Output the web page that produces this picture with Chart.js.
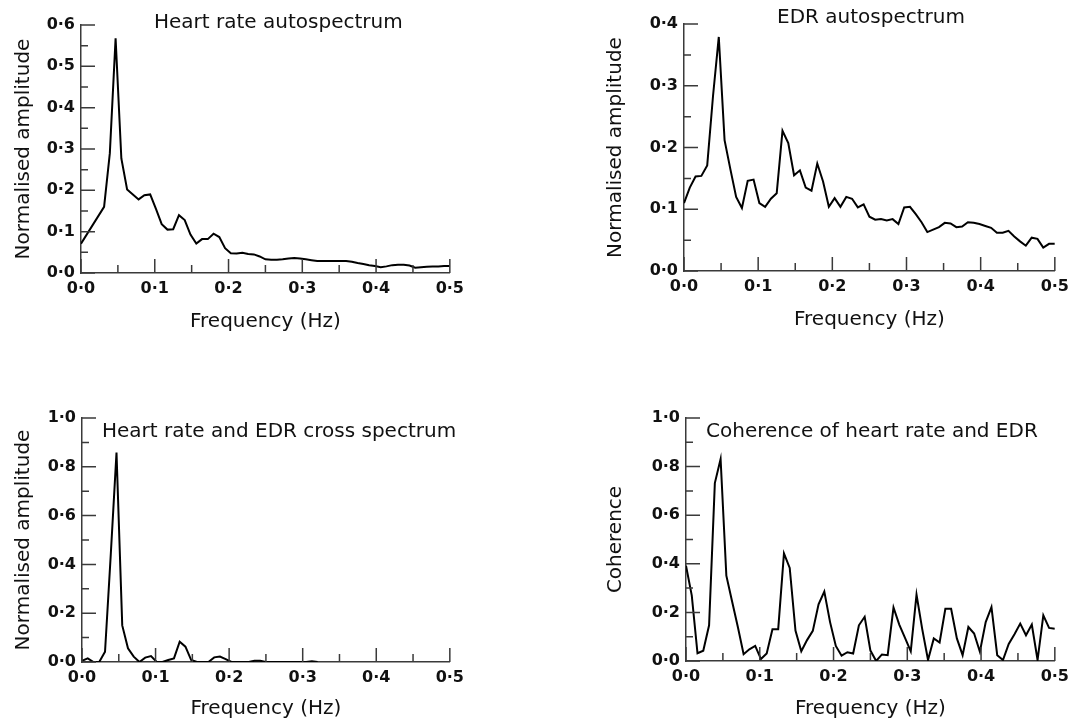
<!DOCTYPE html>
<html>
<head>
<meta charset="utf-8">
<script src="https://cdn.jsdelivr.net/npm/chart.js@4.4.1/dist/chart.umd.min.js"></script>
<style>
html,body{margin:0;padding:0;background:#fff;}
body{width:1080px;height:721px;position:relative;overflow:hidden;}
.p{position:absolute;}
canvas{display:block;}
</style>
</head>
<body>
<div class="p" style="left:0px;top:0px;"><canvas id="c1" width="470" height="340"></canvas></div>
<div class="p" style="left:600px;top:0px;"><canvas id="c2" width="475" height="340"></canvas></div>
<div class="p" style="left:0px;top:380px;"><canvas id="c3" width="470" height="341"></canvas></div>
<div class="p" style="left:600px;top:380px;"><canvas id="c4" width="475" height="341"></canvas></div>
<script>
// ---- data (frequency grid in Hz) ----
const freq = [
  0.0000, 0.0078, 0.0156, 0.0234, 0.0313, 0.0391, 0.0469, 0.0547,
  0.0625, 0.0703, 0.0781, 0.0859, 0.0938, 0.1016, 0.1094, 0.1172,
  0.1250, 0.1328, 0.1406, 0.1484, 0.1563, 0.1641, 0.1719, 0.1797,
  0.1875, 0.1953, 0.2031, 0.2109, 0.2188, 0.2266, 0.2344, 0.2422,
  0.2500, 0.2578, 0.2656, 0.2734, 0.2813, 0.2891, 0.2969, 0.3047,
  0.3125, 0.3203, 0.3281, 0.3359, 0.3438, 0.3516, 0.3594, 0.3672,
  0.3750, 0.3828, 0.3906, 0.3984, 0.4063, 0.4141, 0.4219, 0.4297,
  0.4375, 0.4453, 0.4531, 0.4609, 0.4688, 0.4766, 0.4844, 0.4922,
  0.5000
];
const heartRateAuto = [
  0.071, null, null, null, 0.160, 0.290, 0.568, 0.277,
  0.202, 0.190, 0.178, 0.188, 0.190, 0.155, 0.118, 0.105,
  0.106, 0.140, 0.128, 0.093, 0.071, 0.082, 0.082, 0.095,
  0.087, 0.060, 0.048, 0.047, 0.049, 0.046, 0.045, 0.040,
  0.033, 0.032, 0.032, 0.033, 0.035, 0.036, 0.035, 0.033,
  0.031, 0.029, 0.029, 0.029, 0.029, 0.029, 0.029, 0.027,
  0.024, 0.022, 0.019, 0.017, 0.014, 0.016, 0.019, 0.020,
  0.020, 0.018, 0.013, 0.014, 0.015, 0.016, 0.016, 0.017,
  0.017
];
const edrAuto = [
  0.110, 0.135, 0.153, 0.154, 0.171, 0.283, 0.379, 0.212,
  0.165, 0.120, 0.102, 0.146, 0.148, 0.110, 0.104, 0.117,
  0.126, 0.227, 0.207, 0.155, 0.163, 0.135, 0.130, 0.174,
  0.145, 0.104, 0.118, 0.104, 0.120, 0.117, 0.103, 0.108,
  0.088, 0.083, 0.084, 0.082, 0.084, 0.076, 0.103, 0.104,
  0.092, 0.079, 0.063, 0.067, 0.071, 0.078, 0.077, 0.071,
  0.072, 0.079, 0.078, 0.076, 0.073, 0.070, 0.062, 0.062,
  0.065, 0.056, 0.048, 0.041, 0.054, 0.052, 0.038, 0.044,
  0.044
];
const crossSpectrum = [
  0.005, 0.015, 0.000, 0.000, 0.042, 0.440, 0.858, 0.150,
  0.056, 0.022, 0.000, 0.018, 0.024, 0.000, 0.000, 0.008,
  0.015, 0.083, 0.063, 0.008, 0.000, 0.000, 0.000, 0.019,
  0.022, 0.012, 0.000, 0.000, 0.000, 0.000, 0.005, 0.005,
  0.000, 0.000, 0.000, 0.000, 0.000, 0.000, 0.000, 0.000,
  0.003, 0.000, null, null, null, null, null, null,
  null, null, null, null, null, null, null, null,
  null, null, null, null, null, null, null, null,
  null
];
const coherence = [
  0.392, 0.270, 0.032, 0.042, 0.147, 0.732, 0.831, 0.351,
  0.245, 0.140, 0.028, 0.048, 0.062, 0.008, 0.031, 0.131,
  0.131, 0.443, 0.383, 0.125, 0.040, 0.086, 0.124, 0.233,
  0.286, 0.160, 0.062, 0.022, 0.036, 0.031, 0.147, 0.182,
  0.043, 0.000, 0.027, 0.024, 0.220, 0.150, 0.095, 0.040,
  0.273, 0.130, 0.004, 0.093, 0.076, 0.215, 0.215, 0.093,
  0.024, 0.140, 0.113, 0.038, 0.160, 0.222, 0.024, 0.004,
  0.070, 0.110, 0.154, 0.106, 0.150, 0.004, 0.188, 0.136,
  0.133
];
const panelTitles = ['Heart rate autospectrum', 'EDR autospectrum',
  'Heart rate and EDR cross spectrum', 'Coherence of heart rate and EDR'];
const yTitles = ['Normalised amplitude', 'Normalised amplitude', 'Normalised amplitude', 'Coherence'];
const xTitle = 'Frequency (Hz)';

// ---- helpers ----
const INK = '#111';
const AXIS = '#3a3a3a';
function isMajor(v, step) { const r = v / step; return Math.abs(r - Math.round(r)) < 1e-6; }
function fmt(v) { return v.toFixed(1).replace('.', '\u00B7'); }

const inwardTicks = {
  id: 'inwardTicks',
  afterDraw(chart, args, o) {
    const {ctx, chartArea} = chart;
    const xs = chart.scales.x, ys = chart.scales.y;
    ctx.save();
    ctx.strokeStyle = AXIS;
    ctx.lineWidth = 1.5;
    ctx.beginPath();
    xs.ticks.forEach(t => {
      const px = xs.getPixelForValue(t.value);
      const len = isMajor(t.value, o.xMajor) ? 14 : 8;
      ctx.moveTo(px, chartArea.bottom);
      ctx.lineTo(px, chartArea.bottom - len);
    });
    ys.ticks.forEach(t => {
      const py = ys.getPixelForValue(t.value);
      const len = isMajor(t.value, o.yMajor) ? 14 : 7;
      ctx.moveTo(chartArea.left, py);
      ctx.lineTo(chartArea.left + len, py);
    });
    ctx.stroke();
    ctx.restore();
  }
};
const panelTitle = {
  id: 'panelTitle',
  afterDraw(chart, args, o) {
    const ctx = chart.ctx;
    ctx.save();
    ctx.font = '20px "DejaVu Sans"';
    ctx.fillStyle = INK;
    ctx.textAlign = 'left';
    ctx.textBaseline = 'alphabetic';
    ctx.fillText(o.text, o.x, o.y);
    ctx.restore();
  }
};

Chart.defaults.font.family = '"DejaVu Sans", sans-serif';
Chart.defaults.color = INK;

function makePanel(id, values, g) {
  const pts = freq.map((f, i) => ({x: f, y: values[i]}));
  return new Chart(document.getElementById(id), {
    type: 'line',
    data: { datasets: [{ data: pts, borderColor: '#000', borderWidth: 2, pointRadius: 0,
      tension: 0, spanGaps: true, fill: false }] },
    plugins: [inwardTicks, panelTitle],
    options: {
      responsive: false, animation: false, events: [],
      layout: { padding: { left: 0, right: g.padR, top: g.padT, bottom: 0 } },
      plugins: {
        legend: { display: false }, tooltip: { enabled: false },
        inwardTicks: { xMajor: 0.1, yMajor: g.yMajor },
        panelTitle: { text: g.title, x: g.tx, y: g.ty }
      },
      scales: {
        x: {
          type: 'linear', min: 0, max: 0.5,
          ticks: { stepSize: 0.05, autoSkip: false, maxRotation: 0, padding: 6,
            font: { size: 16, weight: 'bold' }, color: INK,
            callback: v => isMajor(v, 0.1) ? fmt(v) : '' },
          grid: { display: false, drawTicks: false },
          border: { display: true, color: AXIS, width: 1.5 },
          title: { display: true, text: xTitle, color: INK, font: { size: 20 },
            padding: { top: 0, bottom: g.xtPad } },
          afterFit: s => { s.height = g.xH; }
        },
        y: {
          type: 'linear', min: 0, max: g.yMax,
          ticks: { stepSize: g.yStep, autoSkip: false, padding: 6,
            font: { size: 16, weight: 'bold' }, color: INK,
            callback: v => isMajor(v, g.yMajor) ? fmt(v) : '' },
          grid: { display: false, drawTicks: false },
          border: { display: true, color: AXIS, width: 1.5 },
          title: { display: true, text: g.yTitle, color: INK, font: { size: 20 },
            padding: { top: g.ytPad, bottom: 0 } },
          afterFit: s => { s.width = g.yW; }
        }
      }
    }
  });
}

makePanel('c1', heartRateAuto, { padR: 19, padT: 25, yW: 81, xH: 67, ytPad: 12, xtPad: 6,
  yMax: 0.6, yStep: 0.05, yMajor: 0.1, yTitle: yTitles[0], title: panelTitles[0], tx: 154, ty: 28 });
makePanel('c2', edrAuto, { padR: 18, padT: 24, yW: 84, xH: 69, ytPad: 4, xtPad: 8,
  yMax: 0.4, yStep: 0.05, yMajor: 0.1, yTitle: yTitles[1], title: panelTitles[1], tx: 177, ty: 23 });
makePanel('c3', crossSpectrum, { padR: 18, padT: 38, yW: 82, xH: 59, ytPad: 12, xtPad: 0,
  yMax: 1.0, yStep: 0.1, yMajor: 0.2, yTitle: yTitles[2], title: panelTitles[2], tx: 102, ty: 57 });
makePanel('c4', coherence, { padR: 17, padT: 38, yW: 86, xH: 60, ytPad: 4, xtPad: 0,
  yMax: 1.0, yStep: 0.1, yMajor: 0.2, yTitle: yTitles[3], title: panelTitles[3], tx: 106, ty: 57 });
</script>
</body>
</html>
